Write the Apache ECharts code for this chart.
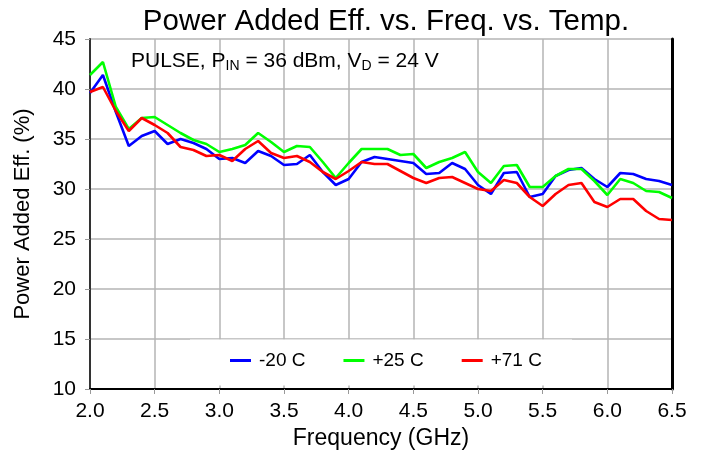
<!DOCTYPE html>
<html>
<head>
<meta charset="utf-8">
<script src="https://cdn.jsdelivr.net/npm/echarts@6/dist/echarts.min.js"></script>
<style>
  html, body { margin: 0; padding: 0; background: #fff; }
  #chart { width: 703px; height: 455px; }
</style>
</head>
<body>
<div id="chart"></div>
<script>
// frequency points, GHz
const freq = [
  2.0, 2.1, 2.2, 2.3, 2.4, 2.5, 2.6, 2.7, 2.8, 2.9,
  3.0, 3.1, 3.2, 3.3, 3.4, 3.5, 3.6, 3.7, 3.8, 3.9,
  4.0, 4.1, 4.2, 4.3, 4.4, 4.5, 4.6, 4.7, 4.8, 4.9,
  5.0, 5.1, 5.2, 5.3, 5.4, 5.5, 5.6, 5.7, 5.8, 5.9,
  6.0, 6.1, 6.2, 6.3, 6.4, 6.5
]
// PAE (%) per temperature
const paeM20 = [
  39.6, 41.4, 37.7, 34.3, 35.3, 35.8, 34.5, 35.0, 34.6, 34.0,
  33.0, 33.1, 32.6, 33.8, 33.3, 32.4, 32.5, 33.4, 31.7, 30.4,
  31.0, 32.7, 33.2, 33.0, 32.8, 32.6, 31.5, 31.6, 32.6, 32.0,
  30.4, 29.5, 31.6, 31.7, 29.2, 29.5, 31.3, 31.9, 32.1, 31.0,
  30.2, 31.6, 31.5, 31.0, 30.8, 30.4
]
const paeP25 = [
  41.4, 42.7, 38.2, 36.0, 37.1, 37.2, 36.4, 35.6, 34.9, 34.5,
  33.7, 34.0, 34.4, 35.6, 34.7, 33.7, 34.3, 34.2, 32.7, 31.1,
  32.6, 34.0, 34.0, 34.0, 33.4, 33.5, 32.1, 32.7, 33.1, 33.7,
  31.7, 30.6, 32.3, 32.4, 30.2, 30.2, 31.3, 32.0, 32.0, 30.8,
  29.4, 31.0, 30.6, 29.8, 29.7, 29.1
]
const paeP71 = [
  39.7, 40.2, 37.8, 35.8, 37.1, 36.4, 35.6, 34.2, 33.9, 33.3,
  33.4, 32.8, 34.0, 34.8, 33.6, 33.1, 33.3, 32.7, 31.7, 31.0,
  31.8, 32.7, 32.5, 32.5, 31.8, 31.1, 30.6, 31.1, 31.2, 30.6,
  30.0, 29.8, 30.9, 30.6, 29.2, 28.3, 29.5, 30.4, 30.6, 28.7,
  28.2, 29.0, 29.0, 27.8, 27.0, 26.9
]
const seriesNames = ['-20 C', '+25 C', '+71 C']
const seriesColors = ['#0000ff', '#00ff00', '#ff0000']

const font = 'Liberation Sans, Arial, sans-serif'
const chart = echarts.init(document.getElementById('chart'))

const pair = (ys) => freq.map((f, i) => [f, ys[i]])

chart.setOption({
  animation: false,
  title: {
    text: 'Power Added Eff. vs. Freq. vs. Temp.',
    left: 381,
    textAlign: 'center',
    top: 2,
    textStyle: { fontFamily: font, fontSize: 29.5, fontWeight: 'normal', color: '#000' },
  },
  grid: { left: 90, right: 31, top: 39, bottom: 66 },
  legend: {
    data: seriesNames,
    left: 230,
    top: 351,
    padding: 0,
    itemGap: 38,
    itemWidth: 21,
    itemHeight: 3,
    icon: 'rect',
    textStyle: { fontFamily: font, fontSize: 19, color: '#000', padding: [0, 0, 0, 3] },
  },
  xAxis: {
    type: 'value',
    min: 2,
    max: 6.5,
    interval: 0.5,
    name: 'Frequency (GHz)',
    nameLocation: 'middle',
    nameGap: 38,
    nameTextStyle: { fontFamily: font, fontSize: 23, color: '#000' },
    axisLine: { lineStyle: { color: '#000', width: 2 } },
    axisTick: { show: true, length: 5, lineStyle: { color: '#999' } },
    axisLabel: {
      fontFamily: font, fontSize: 21, color: '#000', margin: 12,
      formatter: (v) => v.toFixed(1),
    },
    splitLine: { lineStyle: { color: '#b4b4b4', width: 1.5 } },
  },
  yAxis: [
    {
      type: 'value',
      min: 10,
      max: 45,
      interval: 5,
      name: 'Power Added Eff. (%)',
      nameLocation: 'middle',
      nameGap: 56,
      nameTextStyle: { fontFamily: font, fontSize: 22, color: '#000' },
      axisLine: { show: true, lineStyle: { color: '#333', width: 2 } },
      axisTick: { show: true, length: 5, lineStyle: { color: '#999' } },
      axisLabel: { fontFamily: font, fontSize: 21, color: '#000', margin: 14 },
      splitLine: { lineStyle: { color: '#b4b4b4', width: 1.5 } },
    },
    {
      type: 'value',
      min: 10,
      max: 45,
      interval: 5,
      position: 'right',
      axisLine: { show: true, lineStyle: { color: '#000', width: 3 } },
      axisTick: { show: false },
      axisLabel: { show: false },
      splitLine: { show: false },
    },
  ],
  graphic: [
    {
      // white box behind the legend, hiding the grid there
      type: 'rect',
      z: 3,
      shape: { x: 190, y: 339.5, width: 382, height: 46 },
      style: { fill: '#fff' },
    },
    {
      type: 'text',
      left: 131,
      top: 51,
      z: 10,
      style: {
        text: 'PULSE, P{sub|IN} = 36 dBm, V{sub|D} = 24 V',
        fontFamily: font,
        fontSize: 21,
        fill: '#000',
        rich: {
          sub: { fontFamily: font, fontSize: 14, verticalAlign: 'bottom', padding: [10, 0, 0, 0] },
        },
      },
    },
  ],
  series: [paeM20, paeP25, paeP71].map((ys, i) => ({
    name: seriesNames[i],
    type: 'line',
    data: pair(ys),
    symbol: 'none',
    color: seriesColors[i],
    lineStyle: { color: seriesColors[i], width: 2.6 },
  })),
})
</script>
</body>
</html>
